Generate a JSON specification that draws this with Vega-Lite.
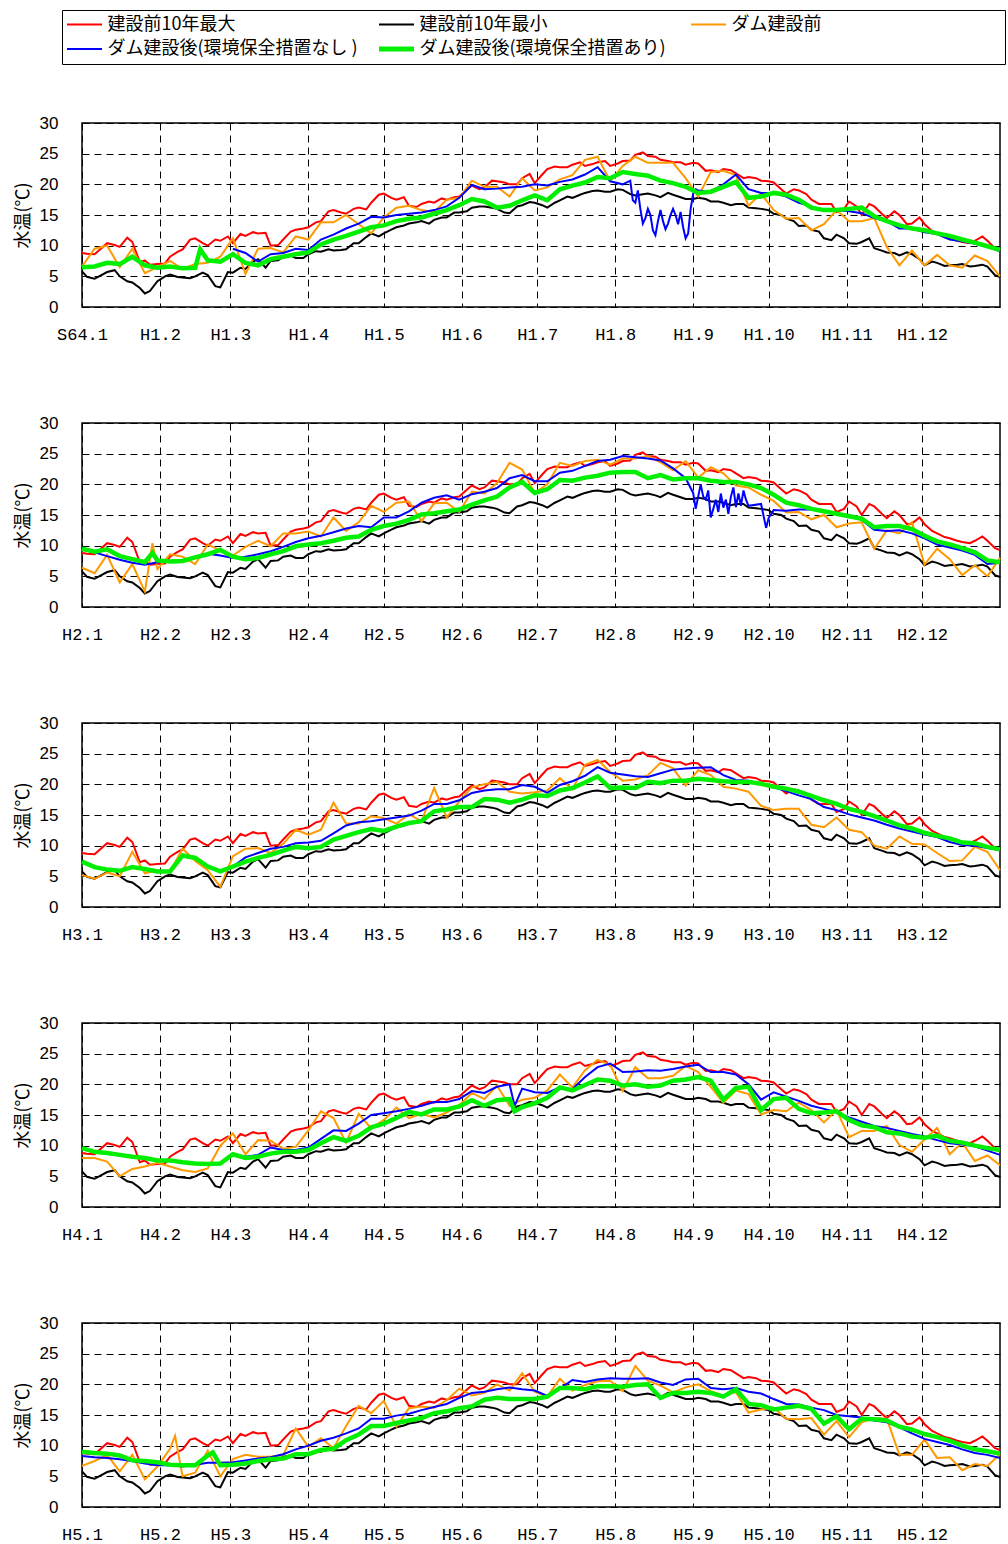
{
"$schema":"https://vega.github.io/schema/vega-lite/v6.json",
"background":"white",
"padding":{"left":13,"top":9,"right":8,"bottom":5},
"datasets":{
"mm":[
{"d":0,"r":8.8,"k":5.8},{"d":5,"r":8.6,"k":4.6},{"d":10,"r":10.4,"k":5.7},{"d":15,"r":9.8,"k":5.0},{"d":20,"r":10.6,"k":4.0},{"d":25,"r":7.6,"k":2.2},{"d":30,"r":7.0,"k":4.2},{"d":35,"r":8.2,"k":5.3},{"d":40,"r":9.4,"k":4.8},{"d":45,"r":11.2,"k":5.0},{"d":50,"r":10.0,"k":5.2},{"d":55,"r":10.8,"k":3.2},{"d":60,"r":10.4,"k":5.6},{"d":65,"r":11.6,"k":6.2},{"d":70,"r":12.0,"k":7.8},{"d":75,"r":10.0,"k":7.5},{"d":80,"r":11.0,"k":8.2},{"d":85,"r":12.6,"k":8.0},{"d":90,"r":13.0,"k":8.6},{"d":95,"r":14.0,"k":9.0},{"d":100,"r":15.8,"k":9.2},{"d":105,"r":15.2,"k":9.4},{"d":110,"r":16.2,"k":10.4},{"d":115,"r":17.0,"k":12.0},{"d":120,"r":18.5,"k":12.0},{"d":125,"r":17.5,"k":13.0},{"d":130,"r":16.5,"k":13.6},{"d":135,"r":16.8,"k":14.0},{"d":140,"r":17.0,"k":14.2},{"d":145,"r":17.5,"k":14.6},{"d":150,"r":18.0,"k":15.4},{"d":155,"r":19.8,"k":16.2},{"d":160,"r":19.5,"k":16.4},{"d":165,"r":20.5,"k":16.0},{"d":170,"r":20.0,"k":15.3},{"d":175,"r":21.0,"k":16.6},{"d":180,"r":20.2,"k":17.0},{"d":185,"r":22.5,"k":16.2},{"d":190,"r":22.8,"k":17.4},{"d":195,"r":23.2,"k":17.8},{"d":200,"r":23.0,"k":18.6},{"d":205,"r":23.6,"k":19.0},{"d":210,"r":23.0,"k":18.8},{"d":215,"r":23.8,"k":19.1},{"d":220,"r":24.8,"k":18.2},{"d":225,"r":24.6,"k":18.5},{"d":230,"r":24.0,"k":17.9},{"d":235,"r":23.6,"k":18.3},{"d":240,"r":23.2,"k":17.6},{"d":245,"r":23.4,"k":17.8},{"d":250,"r":22.3,"k":17.2},{"d":255,"r":22.5,"k":17.0},{"d":260,"r":21.8,"k":16.8},{"d":265,"r":21.2,"k":16.2},{"d":270,"r":20.6,"k":16.0},{"d":275,"r":20.3,"k":15.2},{"d":280,"r":18.5,"k":14.4},{"d":285,"r":19.0,"k":13.2},{"d":290,"r":17.5,"k":12.6},{"d":295,"r":16.8,"k":11.2},{"d":300,"r":15.5,"k":11.8},{"d":305,"r":17.2,"k":10.4},{"d":310,"r":15.0,"k":10.6},{"d":315,"r":16.4,"k":9.6},{"d":320,"r":14.5,"k":8.9},{"d":325,"r":15.0,"k":8.4},{"d":330,"r":13.6,"k":8.6},{"d":335,"r":13.5,"k":6.8},{"d":340,"r":12.0,"k":7.2},{"d":345,"r":11.2,"k":6.8},{"d":350,"r":10.6,"k":7.0},{"d":355,"r":10.8,"k":6.7},{"d":360,"r":10.8,"k":6.6},{"d":365,"r":9.3,"k":4.9},
{"d":2,"r":8.7,"k":4.9},{"d":13,"r":10.1,"k":6.0},{"d":18,"r":11.3,"k":4.2},{"d":23,"r":7.3,"k":3.1},{"d":27,"r":6.9,"k":2.6},{"d":33,"r":7.1,"k":5.0},{"d":38,"r":9.0,"k":4.9},{"d":43,"r":11.0,"k":4.7},{"d":48,"r":10.4,"k":5.6},{"d":53,"r":11.0,"k":3.4},{"d":58,"r":11.5,"k":5.7},{"d":63,"r":11.9,"k":6.4},{"d":68,"r":12.2,"k":7.4},{"d":73,"r":12.1,"k":6.4},{"d":78,"r":10.1,"k":7.6},{"d":83,"r":12.3,"k":8.4},{"d":88,"r":12.8,"k":8.0},{"d":93,"r":13.8,"k":9.1},{"d":98,"r":15.6,"k":9.4},{"d":103,"r":15.4,"k":9.3},{"d":108,"r":16.0,"k":10.4},{"d":113,"r":15.9,"k":11.4},{"d":118,"r":18.3,"k":11.5},{"d":123,"r":17.8,"k":12.6},{"d":128,"r":17.9,"k":13.3},{"d":133,"r":16.3,"k":13.8},{"d":138,"r":17.2,"k":13.6},{"d":143,"r":17.7,"k":14.6},{"d":148,"r":17.9,"k":15.4},{"d":153,"r":19.1,"k":15.6},{"d":158,"r":19.2,"k":16.4},{"d":163,"r":20.6,"k":16.2},{"d":168,"r":20.3,"k":15.4},{"d":173,"r":20.0,"k":16.4},{"d":178,"r":21.7,"k":17.1},{"d":183,"r":21.6,"k":16.6},{"d":188,"r":22.9,"k":17.0},{"d":193,"r":22.8,"k":18.0},{"d":198,"r":23.6,"k":18.3},{"d":203,"r":23.3,"k":18.9},{"d":208,"r":23.8,"k":18.8},{"d":213,"r":23.4,"k":19.2},{"d":218,"r":23.9,"k":18.4},{"d":223,"r":25.2,"k":18.4},{"d":228,"r":24.5,"k":18.2},{"d":233,"r":23.8,"k":18.6},{"d":238,"r":23.6,"k":17.9},{"d":243,"r":23.5,"k":17.6},{"d":248,"r":22.2,"k":17.6},{"d":253,"r":22.0,"k":17.2},{"d":258,"r":22.3,"k":16.6},{"d":263,"r":21.0,"k":16.8},{"d":268,"r":21.0,"k":16.1},{"d":273,"r":20.5,"k":15.8},{"d":278,"r":19.2,"k":15.0},{"d":283,"r":19.2,"k":14.0},{"d":288,"r":18.4,"k":13.3},{"d":293,"r":16.8,"k":12.3},{"d":298,"r":16.8,"k":10.9},{"d":303,"r":16.0,"k":11.2},{"d":308,"r":16.4,"k":10.3},{"d":313,"r":16.8,"k":11.2},{"d":318,"r":15.2,"k":9.2},{"d":323,"r":15.6,"k":8.8},{"d":328,"r":13.5,"k":8.9},{"d":333,"r":14.6,"k":7.8},{"d":338,"r":12.4,"k":7.4},{"d":343,"r":11.4,"k":6.7},{"d":348,"r":10.8,"k":6.9},{"d":353,"r":10.4,"k":6.6},{"d":358,"r":11.5,"k":6.9},{"d":363,"r":9.6,"k":5.2}
],
"p1":[
{"d":0,"o":6.6,"g":6.5},{"d":5,"o":9.5,"g":6.6},{"d":10,"o":10.0,"g":7.2},{"d":15,"o":6.5,"g":7.0},{"d":20,"o":9.5,"g":8.2},{"d":25,"o":5.5,"g":6.8},{"d":30,"o":6.5,"g":6.4},{"d":35,"o":7.5,"g":6.6},{"d":40,"o":6.2,"g":6.3},{"d":45,"o":7.0,"g":6.4},{"d":47,"g":9.4},{"d":50,"o":7.2,"g":7.6},{"d":55,"o":8.2,"g":7.4},
{"d":60,"o":11.2,"b":9.5,"g":8.6},{"d":65,"o":5.4,"b":8.8,"g":7.2},{"d":70,"o":9.5,"b":7.4,"g":6.8},{"d":75,"o":9.6,"b":8.6,"g":7.8},{"d":80,"o":8.9,"b":8.8,"g":8.2},{"d":85,"o":11.5,"b":9.5,"g":8.6},{"d":90,"o":11.0,"b":9.3,"g":8.9},{"d":95,"o":13.8,"b":11.0,"g":10.2},{"d":100,"o":13.8,"b":11.8,"g":11.0},{"d":105,"o":15.0,"b":12.8,"g":11.6},{"d":110,"o":13.5,"b":13.6,"g":12.3},{"d":115,"o":12.0,"b":14.7,"g":13.0},{"d":120,"o":14.6,"b":14.6,"g":13.3},{"d":125,"o":16.2,"b":15.0,"g":14.0},{"d":130,"o":16.5,"b":15.2,"g":14.4},{"d":135,"o":15.8,"b":15.4,"g":14.6},{"d":140,"o":15.5,"b":15.8,"g":15.2},{"d":145,"o":17.5,"b":16.4,"g":15.8},{"d":150,"o":17.8,"b":17.8,"g":16.6},{"d":155,"o":20.6,"b":19.9,"g":17.6},{"d":160,"o":19.6,"b":19.2,"g":17.2},{"d":165,"o":19.6,"b":19.3,"g":16.2},{"d":170,"o":18.0,"b":19.5,"g":16.5},{"d":175,"o":21.0,"b":19.6,"g":17.4},{"d":180,"o":19.0,"b":20.0,"g":18.2},{"d":185,"o":19.5,"b":19.8,"g":17.4},{"d":190,"o":20.8,"b":20.4,"g":19.2},{"d":195,"o":21.5,"b":20.8,"g":19.8},{"d":200,"o":24.0,"b":21.6,"g":20.3},{"d":205,"o":24.5,"b":22.8,"g":21.2},{"d":210,"o":20.5,"b":20.5,"g":21.0},{"d":215,"o":23.0,"b":20.0,"g":22.0},{"d":220,"o":24.5,"b":17.0,"g":21.7},{"d":225,"o":23.5,"b":16.0,"g":21.4},{"d":230,"o":23.5,"b":15.8,"g":20.6},{"d":235,"o":23.5,"b":16.0,"g":20.2},{"d":240,"o":21.0,"b":11.2,"g":19.6},{"d":245,"o":18.0,"b":19.0,"g":18.6},{"d":250,"o":22.0,"b":18.8,"g":18.8},{"d":255,"o":22.2,"b":20.0,"g":19.6},{"d":260,"o":21.5,"b":21.6,"g":20.4},{"d":265,"o":16.5,"b":19.2,"g":17.8},{"d":270,"o":18.5,"b":18.6,"g":18.0},{"d":275,"o":15.8,"b":18.6,"g":18.6},{"d":280,"o":14.4,"b":18.0,"g":18.3},{"d":285,"o":14.5,"b":17.0,"g":17.5},{"d":290,"o":12.5,"b":16.4,"g":16.2},{"d":295,"o":13.5,"b":15.8,"g":15.8},{"d":300,"o":15.8,"b":15.8,"g":15.8},{"d":305,"o":14.0,"b":15.6,"g":16.0},{"d":310,"o":14.0,"b":15.3,"g":16.2},{"d":315,"o":14.5,"b":14.5,"g":14.8},{"d":320,"o":9.8,"b":14.0,"g":14.0},{"d":325,"o":6.8,"b":12.8,"g":13.3},{"d":330,"o":9.2,"b":12.8,"g":12.8},{"d":335,"o":6.8,"b":12.2,"g":12.5},{"d":340,"o":8.5,"b":11.9,"g":12.0},{"d":345,"o":6.8,"b":11.0,"g":11.6},{"d":350,"o":6.4,"b":10.7,"g":11.0},{"d":355,"o":8.4,"b":10.3,"g":10.5},{"d":360,"o":7.5,"b":9.8,"g":9.9},{"d":365,"o":5.0,"b":9.1,"g":9.3},
{"d":218,"b":20.6},{"d":219,"b":17.4},{"d":221,"b":19.0},{"d":222,"b":16.0},{"d":223,"b":13.6},{"d":224,"b":14.5},{"d":226,"b":15.0},{"d":227,"b":12.5},{"d":228,"b":11.7},{"d":229,"b":14.0},{"d":231,"b":14.0},{"d":232,"b":12.7},{"d":233,"b":13.6},{"d":234,"b":15.0},{"d":236,"b":15.0},{"d":237,"b":13.5},{"d":238,"b":15.5},{"d":239,"b":13.0},{"d":241,"b":12.0},{"d":242,"b":16.0},{"d":243,"b":18.5},{"d":244,"b":19.2}
],
"p2":[
{"d":0,"o":6.4,"b":9.4,"g":9.5},{"d":5,"o":5.5,"b":8.9,"g":9.0},{"d":10,"o":8.5,"b":8.3,"g":9.4},{"d":15,"o":4.0,"b":7.7,"g":8.3},{"d":20,"o":7.0,"b":7.2,"g":7.8},{"d":25,"o":2.5,"b":6.9,"g":7.3},{"d":28,"o":10.4,"g":8.8},{"d":30,"o":6.2,"b":7.3,"g":7.6},{"d":35,"o":8.6,"b":7.4,"g":7.4},{"d":40,"o":8.2,"b":7.5,"g":7.5},{"d":45,"o":7.0,"b":8.2,"g":8.1},{"d":50,"o":10.2,"b":8.7,"g":8.6},{"d":55,"o":9.2,"b":8.4,"g":9.3},{"d":60,"o":8.4,"b":8.0,"g":8.2},{"d":65,"o":9.8,"b":8.2,"g":7.8},{"d":70,"o":10.8,"b":8.6,"g":8.0},{"d":75,"o":9.9,"b":9.1,"g":8.6},{"d":80,"o":12.0,"b":9.8,"g":9.1},{"d":85,"o":12.0,"b":10.6,"g":9.9},{"d":90,"o":12.3,"b":11.2,"g":10.2},{"d":95,"o":11.5,"b":11.6,"g":10.4},{"d":100,"o":14.6,"b":12.2,"g":10.8},{"d":105,"o":12.4,"b":12.8,"g":11.3},{"d":110,"o":13.8,"b":13.2,"g":11.5},{"d":115,"o":16.5,"b":13.0,"g":12.6},{"d":120,"o":15.5,"b":14.6,"g":13.2},{"d":125,"o":17.0,"b":14.6,"g":13.6},{"d":130,"o":17.2,"b":15.6,"g":14.2},{"d":135,"o":14.0,"b":17.0,"g":15.1},{"d":140,"o":16.9,"b":17.8,"g":15.3},{"d":145,"o":17.0,"b":18.2,"g":15.6},{"d":150,"o":15.5,"b":17.5,"g":15.9},{"d":155,"o":18.8,"b":18.4,"g":16.7},{"d":160,"o":18.5,"b":18.8,"g":17.4},{"d":165,"o":20.2,"b":19.4,"g":18.0},{"d":170,"o":23.5,"b":21.0,"g":19.5},{"d":175,"o":22.4,"b":21.5,"g":20.4},{"d":180,"o":18.6,"b":20.5,"g":18.6},{"d":185,"o":20.0,"b":20.5,"g":19.2},{"d":190,"o":23.5,"b":21.9,"g":20.7},{"d":195,"o":23.0,"b":22.2,"g":20.6},{"d":200,"o":23.8,"b":23.0,"g":21.1},{"d":205,"o":24.0,"b":23.8,"g":21.4},{"d":210,"o":23.2,"b":24.0,"g":21.9},{"d":215,"o":24.2,"b":24.6,"g":22.0},{"d":220,"o":24.2,"b":24.4,"g":22.0},{"d":225,"o":24.6,"b":24.2,"g":21.0},{"d":230,"o":23.6,"b":23.9,"g":21.5},{"d":235,"o":22.3,"b":22.6,"g":20.8},{"d":240,"o":23.8,"b":21.0,"g":21.0},{"d":245,"o":21.1,"b":18.0,"g":21.0},{"d":250,"o":22.8,"b":14.6,"g":20.6},{"d":255,"o":21.8,"b":16.2,"g":20.4},{"d":260,"o":19.8,"b":16.3,"g":20.4},{"d":265,"o":19.5,"b":16.5,"g":20.0},{"d":270,"o":18.3,"b":16.8,"g":19.4},{"d":275,"o":17.3,"b":15.8,"g":18.3},{"d":280,"o":15.4,"b":15.7,"g":17.0},{"d":285,"o":15.5,"b":15.9,"g":16.6},{"d":290,"o":14.3,"b":15.9,"g":16.0},{"d":295,"o":15.0,"b":15.7,"g":15.6},{"d":300,"o":13.0,"b":15.2,"g":15.2},{"d":305,"o":13.6,"b":15.0,"g":14.8},{"d":310,"o":13.8,"b":14.2,"g":14.4},{"d":315,"o":9.5,"b":12.6,"g":13.0},{"d":320,"o":12.5,"b":12.4,"g":13.2},{"d":325,"o":12.0,"b":12.5,"g":13.2},{"d":330,"o":13.8,"b":12.0,"g":12.7},{"d":335,"o":6.9,"b":11.2,"g":11.6},{"d":340,"o":9.5,"b":10.2,"g":10.7},{"d":345,"o":7.8,"b":9.7,"g":10.2},{"d":350,"o":5.2,"b":9.2,"g":9.6},{"d":355,"o":6.8,"b":8.5,"g":8.9},{"d":360,"o":5.0,"b":7.0,"g":7.6},{"d":365,"o":8.0,"b":7.2,"g":7.3},
{"d":243,"b":18.6},{"d":244,"b":16.0},{"d":246,"b":20.0},{"d":247,"b":18.0},{"d":248,"b":17.5},{"d":249,"b":19.0},{"d":251,"b":16.0},{"d":252,"b":17.5},{"d":253,"b":15.5},{"d":254,"b":18.5},{"d":256,"b":17.5},{"d":257,"b":15.2},{"d":258,"b":18.0},{"d":259,"b":19.5},{"d":261,"b":18.5},{"d":262,"b":16.5},{"d":263,"b":19.0},{"d":264,"b":17.5},{"d":272,"b":12.9},{"d":273,"b":14.5}
],
"p3":[
{"d":0,"o":5.2,"g":7.4},{"d":5,"o":4.6,"g":6.5},{"d":10,"o":5.6,"g":6.1},{"d":15,"o":5.0,"g":5.9},{"d":20,"o":9.0,"g":6.5},{"d":25,"o":5.5,"g":6.2},{"d":30,"o":6.0,"g":5.8},{"d":35,"o":5.8,"g":5.8},{"d":40,"o":9.5,"g":8.4},{"d":45,"o":7.5,"g":8.0},{"d":50,"o":6.0,"g":6.6},{"d":55,"o":3.3,"g":5.8},
{"d":60,"o":8.3,"b":6.6,"g":6.6},{"d":65,"o":9.5,"b":8.1,"g":7.4},{"d":70,"o":9.6,"b":8.8,"g":8.0},{"d":75,"o":8.8,"b":9.5,"g":8.5},{"d":80,"o":10.3,"b":9.8,"g":9.2},{"d":85,"o":12.6,"b":10.4,"g":9.8},{"d":90,"o":11.8,"b":10.5,"g":9.6},{"d":95,"o":12.6,"b":10.8,"g":9.8},{"d":100,"o":17.0,"b":12.0,"g":11.0},{"d":105,"o":13.6,"b":13.3,"g":11.6},{"d":110,"o":13.6,"b":13.8,"g":12.2},{"d":115,"o":14.8,"b":14.0,"g":12.7},{"d":120,"o":14.5,"b":14.3,"g":12.4},{"d":125,"o":13.6,"b":14.6,"g":13.1},{"d":130,"o":15.1,"b":14.9,"g":13.7},{"d":135,"o":14.0,"b":15.7,"g":14.0},{"d":140,"o":19.4,"b":16.8,"g":15.6},{"d":145,"o":14.6,"b":16.8,"g":15.9},{"d":150,"o":17.2,"b":17.4,"g":16.3},{"d":155,"o":19.5,"b":18.6,"g":16.3},{"d":160,"o":20.0,"b":19.0,"g":17.6},{"d":165,"o":20.4,"b":19.2,"g":17.5},{"d":170,"o":18.8,"b":19.2,"g":17.0},{"d":175,"o":18.5,"b":19.9,"g":17.5},{"d":180,"o":18.7,"b":19.6,"g":18.2},{"d":185,"o":19.0,"b":18.6,"g":18.1},{"d":190,"o":21.0,"b":19.9,"g":19.0},{"d":195,"o":19.2,"b":20.5,"g":19.4},{"d":200,"o":23.2,"b":21.4,"g":20.3},{"d":205,"o":24.0,"b":22.8,"g":21.3},{"d":210,"o":22.0,"b":21.9,"g":19.4},{"d":215,"o":20.6,"b":21.6,"g":19.5},{"d":220,"o":20.8,"b":21.3,"g":19.4},{"d":225,"o":21.5,"b":21.2,"g":20.4},{"d":230,"o":23.5,"b":21.8,"g":20.2},{"d":235,"o":22.6,"b":22.4,"g":20.6},{"d":240,"o":19.8,"b":22.6,"g":20.6},{"d":245,"o":22.3,"b":22.7,"g":20.9},{"d":250,"o":21.5,"b":22.8,"g":20.7},{"d":255,"o":19.6,"b":21.5,"g":20.5},{"d":260,"o":19.3,"b":20.7,"g":20.4},{"d":265,"o":18.8,"b":20.6,"g":20.4},{"d":270,"o":16.5,"b":20.0,"g":20.1},{"d":275,"o":15.8,"b":19.5,"g":19.6},{"d":280,"o":16.0,"b":18.9,"g":19.3},{"d":285,"o":16.0,"b":18.2,"g":18.8},{"d":290,"o":13.4,"b":17.6,"g":18.1},{"d":295,"o":13.0,"b":16.3,"g":17.4},{"d":300,"o":14.6,"b":15.8,"g":16.8},{"d":305,"o":12.6,"b":15.1,"g":16.0},{"d":310,"o":12.2,"b":14.6,"g":15.5},{"d":315,"o":10.0,"b":14.1,"g":14.8},{"d":320,"o":9.5,"b":13.4,"g":14.1},{"d":325,"o":11.5,"b":12.8,"g":13.3},{"d":330,"o":10.3,"b":12.3,"g":12.8},{"d":335,"o":10.2,"b":11.8,"g":12.1},{"d":340,"o":8.8,"b":11.4,"g":11.6},{"d":345,"o":7.5,"b":10.6,"g":11.2},{"d":350,"o":7.6,"b":10.1,"g":10.5},{"d":355,"o":9.8,"b":10.0,"g":10.4},{"d":360,"o":9.0,"b":9.6,"g":9.8},{"d":365,"o":6.0,"b":9.3,"g":9.4}
],
"p4":[
{"d":0,"o":8.0,"g":9.6},{"d":5,"o":8.0,"g":9.0},{"d":10,"o":7.4,"g":8.8},{"d":15,"o":5.0,"g":8.5},{"d":20,"o":6.2,"g":8.2},{"d":25,"o":6.6,"g":8.0},{"d":30,"o":7.2,"g":7.6},{"d":35,"o":6.6,"g":7.6},{"d":40,"o":6.0,"g":7.3},{"d":45,"o":5.7,"g":7.1},{"d":50,"o":6.3,"g":7.0},{"d":55,"o":10.0,"g":7.1},
{"d":60,"o":12.0,"b":8.6,"g":8.6},{"d":65,"o":8.6,"b":8.2,"g":8.0},{"d":70,"o":10.9,"b":8.5,"g":8.2},{"d":75,"o":10.8,"b":9.7,"g":8.7},{"d":80,"o":9.5,"b":9.3,"g":9.0},{"d":85,"o":9.8,"b":9.3,"g":9.0},{"d":90,"o":12.5,"b":9.7,"g":9.3},{"d":95,"o":15.6,"b":11.1,"g":10.4},{"d":100,"o":14.5,"b":12.5,"g":11.4},{"d":105,"o":10.5,"b":12.4,"g":10.8},{"d":110,"o":15.2,"b":13.6,"g":11.6},{"d":115,"o":12.8,"b":15.0,"g":13.0},{"d":120,"o":14.2,"b":15.3,"g":13.6},{"d":125,"o":16.2,"b":15.6,"g":14.5},{"d":130,"o":14.5,"b":16.0,"g":15.5},{"d":135,"o":15.2,"b":16.5,"g":15.1},{"d":140,"o":14.6,"b":17.1,"g":15.9},{"d":145,"o":15.4,"b":17.1,"g":15.9},{"d":150,"o":16.6,"b":17.6,"g":16.4},{"d":155,"o":18.6,"b":18.9,"g":17.4},{"d":160,"o":17.6,"b":18.6,"g":16.5},{"d":165,"o":19.8,"b":19.6,"g":17.4},{"d":170,"o":16.5,"b":20.0,"g":17.6},{"d":172,"b":16.5,"g":15.6},{"d":175,"o":17.5,"b":19.3,"g":16.3},{"d":180,"o":17.8,"b":18.7,"g":16.9},{"d":185,"o":19.0,"b":18.6,"g":17.8},{"d":190,"o":21.6,"b":19.5,"g":19.5},{"d":195,"o":19.5,"b":19.2,"g":19.0},{"d":200,"o":22.3,"b":21.2,"g":19.9},{"d":205,"o":24.0,"b":22.8,"g":20.8},{"d":210,"o":23.2,"b":23.4,"g":20.6},{"d":215,"o":18.9,"b":22.0,"g":19.8},{"d":220,"o":22.8,"b":22.1,"g":20.0},{"d":225,"o":21.0,"b":22.3,"g":19.6},{"d":230,"o":21.0,"b":22.2,"g":19.8},{"d":235,"o":21.4,"b":22.5,"g":20.6},{"d":240,"o":23.0,"b":22.9,"g":20.8},{"d":245,"o":22.0,"b":23.2,"g":21.2},{"d":250,"o":19.6,"b":22.0,"g":20.6},{"d":255,"o":17.0,"b":22.0,"g":17.5},{"d":260,"o":19.0,"b":21.6,"g":19.4},{"d":265,"o":18.4,"b":20.0,"g":19.6},{"d":270,"o":15.1,"b":17.5,"g":15.8},{"d":275,"o":15.8,"b":18.7,"g":17.6},{"d":280,"o":15.6,"b":18.0,"g":17.8},{"d":285,"o":17.0,"b":17.3,"g":16.0},{"d":290,"o":15.8,"b":16.5,"g":15.3},{"d":295,"o":13.8,"b":16.0,"g":15.4},{"d":300,"o":15.8,"b":15.5,"g":15.6},{"d":305,"o":11.4,"b":14.6,"g":14.2},{"d":310,"o":12.4,"b":13.9,"g":13.3},{"d":315,"o":12.4,"b":13.2,"g":13.0},{"d":320,"o":13.2,"b":12.9,"g":12.2},{"d":325,"o":10.1,"b":12.4,"g":12.0},{"d":330,"o":9.0,"b":11.9,"g":11.5},{"d":335,"o":11.0,"b":11.5,"g":11.3},{"d":340,"o":12.9,"b":10.9,"g":11.6},{"d":345,"o":8.6,"b":10.4,"g":10.8},{"d":350,"o":10.5,"b":10.2,"g":10.5},{"d":355,"o":7.5,"b":9.9,"g":10.0},{"d":360,"o":8.4,"b":9.2,"g":9.6},{"d":365,"o":6.8,"b":8.5,"g":9.3}
],
"p5":[
{"d":0,"o":6.7,"b":8.3,"g":9.0},{"d":5,"o":7.5,"b":8.1,"g":8.8},{"d":10,"o":8.5,"b":8.0,"g":8.7},{"d":15,"o":5.8,"b":7.8,"g":8.4},{"d":20,"o":8.5,"b":7.5,"g":7.6},{"d":25,"o":4.5,"b":7.1,"g":7.5},{"d":30,"o":6.6,"b":6.8,"g":7.3},{"d":35,"o":9.5,"b":6.8,"g":6.9},{"d":37,"o":11.6},{"d":40,"o":5.0,"b":6.6,"g":6.8},{"d":45,"o":5.6,"b":6.9,"g":6.8},{"d":50,"o":9.2,"b":7.2,"g":8.4},{"d":52,"g":8.9},{"d":55,"o":5.0,"b":7.2,"g":6.8},{"d":60,"o":7.8,"b":7.3,"g":6.9},{"d":65,"o":8.5,"b":7.6,"g":7.1},{"d":70,"o":8.2,"b":7.9,"g":7.5},{"d":75,"o":8.2,"b":8.1,"g":7.8},{"d":80,"o":8.5,"b":8.6,"g":7.9},{"d":85,"o":12.8,"b":9.4,"g":8.6},{"d":90,"o":9.8,"b":10.0,"g":8.6},{"d":95,"o":11.2,"b":10.8,"g":9.3},{"d":100,"o":9.6,"b":11.3,"g":9.5},{"d":105,"o":13.2,"b":12.0,"g":10.9},{"d":110,"o":16.5,"b":12.8,"g":11.8},{"d":115,"o":15.3,"b":14.4,"g":13.2},{"d":120,"o":17.3,"b":14.4,"g":13.2},{"d":125,"o":13.1,"b":14.9,"g":13.7},{"d":130,"o":16.1,"b":15.2,"g":14.1},{"d":135,"o":16.4,"b":15.8,"g":14.5},{"d":140,"o":16.2,"b":16.3,"g":15.3},{"d":145,"o":17.4,"b":16.8,"g":15.6},{"d":150,"o":19.3,"b":17.8,"g":16.1},{"d":155,"o":18.2,"b":18.6,"g":16.4},{"d":160,"o":18.6,"b":18.8,"g":17.5},{"d":165,"o":20.0,"b":19.2,"g":17.8},{"d":170,"o":19.0,"b":19.5,"g":17.6},{"d":175,"o":21.8,"b":19.2,"g":17.6},{"d":180,"o":18.8,"b":19.0,"g":17.6},{"d":185,"o":18.0,"b":18.1,"g":18.0},{"d":190,"o":20.9,"b":19.3,"g":19.4},{"d":195,"o":19.0,"b":20.7,"g":19.4},{"d":200,"o":19.9,"b":20.4,"g":19.2},{"d":205,"o":20.5,"b":20.8,"g":19.7},{"d":210,"o":20.6,"b":21.0,"g":19.7},{"d":215,"o":18.9,"b":20.9,"g":19.6},{"d":220,"o":23.0,"b":20.9,"g":19.9},{"d":225,"o":20.6,"b":21.0,"g":20.0},{"d":230,"o":19.8,"b":20.3,"g":17.8},{"d":235,"o":18.7,"b":19.9,"g":18.6},{"d":240,"o":19.5,"b":20.8,"g":18.6},{"d":245,"o":20.0,"b":20.9,"g":18.8},{"d":250,"o":18.9,"b":19.4,"g":18.6},{"d":255,"o":18.2,"b":19.2,"g":18.0},{"d":260,"o":18.7,"b":19.4,"g":19.2},{"d":265,"o":15.4,"b":18.8,"g":16.8},{"d":270,"o":15.9,"b":18.5,"g":16.6},{"d":275,"o":16.2,"b":17.6,"g":15.9},{"d":280,"o":14.4,"b":16.8,"g":16.2},{"d":285,"o":14.3,"b":16.7,"g":16.5},{"d":290,"o":14.5,"b":16.2,"g":16.0},{"d":295,"o":11.8,"b":15.8,"g":13.6},{"d":300,"o":14.0,"b":15.0,"g":14.8},{"d":305,"o":11.4,"b":14.8,"g":12.7},{"d":310,"o":13.8,"b":14.6,"g":14.4},{"d":315,"o":14.5,"b":14.1,"g":14.3},{"d":320,"o":14.4,"b":13.8,"g":14.1},{"d":325,"o":8.5,"b":13.0,"g":13.1},{"d":330,"o":8.5,"b":12.0,"g":12.6},{"d":335,"o":11.0,"b":11.1,"g":11.9},{"d":340,"o":8.0,"b":10.6,"g":11.4},{"d":345,"o":8.1,"b":10.1,"g":10.8},{"d":350,"o":6.0,"b":9.4,"g":10.0},{"d":355,"o":7.0,"b":8.8,"g":9.4},{"d":360,"o":6.7,"b":8.5,"g":9.1},{"d":365,"o":8.6,"b":8.0,"g":8.7}
]
},
"spacing":116,
"bounds":"flush",
"vconcat":[
{"width":918,"height":184,
 "encoding":{
  "x":{"field":"d","type":"quantitative","title":null,"scale":{"domain":[0,365],"nice":false,"zero":false},"axis":{"values":[0,31,59,90,120,151,181,212,243,273,304,334],"labelExpr":"['S64.1','H1.2','H1.3','H1.4','H1.5','H1.6','H1.7','H1.8','H1.9','H1.10','H1.11','H1.12'][indexof([0,31,59,90,120,151,181,212,243,273,304,334], datum.value)]"}},
  "y":{"field":"v","type":"quantitative","title":"水温(℃)","scale":{"domain":[0,30],"nice":false},"axis":{"values":[0,5,10,15,20,25,30]}},
  "color":{"field":"s","type":"nominal","scale":{"domain":["r","k","o","b","g"],"range":["#ff0000","#000000","#ff9900","#0000ff","#00ee00"]},
   "legend":{"orient":"none","legendX":-20,"legendY":-113,"direction":"horizontal","columns":3,"gridAlign":"all","columnPadding":11,"rowPadding":5,"padding":5,"strokeColor":"#000","symbolType":"stroke","symbolSize":1225,"symbolOffset":8.5,"symbolStrokeWidth":2,"labelFont":"Noto Sans CJK JP","labelFontSize":18,"labelColor":"#000","labelOffset":14,"labelLimit":400,"title":" ","titleOrient":"right","titlePadding":179,"titleFontSize":18,
   "labelExpr":"datum.label==='r'?'建設前10年最大':datum.label==='k'?'建設前10年最小':datum.label==='o'?'ダム建設前':datum.label==='b'?'ダム建設後(環境保全措置なし )':'ダム建設後(環境保全措置あり)'",
   "encode":{"symbols":{"update":{"strokeWidth":{"signal":"datum.value==='g'?5:2"}}}}}}
 },
 "layer":[
  {"data":{"name":"mm"},"transform":[{"fold":["r","k"],"as":["s","v"]}],"mark":{"type":"line","strokeWidth":2},"encoding":{}},
  {"data":{"name":"p1"},"transform":[{"fold":["o"],"as":["s","v"]},{"filter":"isValid(datum.v)"}],"mark":{"type":"line","strokeWidth":2},"encoding":{}},
  {"data":{"name":"p1"},"transform":[{"fold":["b"],"as":["s","v"]},{"filter":"isValid(datum.v)"}],"mark":{"type":"line","strokeWidth":2},"encoding":{}},
  {"data":{"name":"p1"},"transform":[{"fold":["g"],"as":["s","v"]},{"filter":"isValid(datum.v)"}],"mark":{"type":"line","strokeWidth":4.5},"encoding":{}}
 ]},
{"width":918,"height":184,
 "encoding":{
  "x":{"field":"d","type":"quantitative","title":null,"scale":{"domain":[0,365],"nice":false,"zero":false},"axis":{"values":[0,31,59,90,120,151,181,212,243,273,304,334],"labelExpr":"'H2.' + (indexof([0,31,59,90,120,151,181,212,243,273,304,334], datum.value)+1)"}},
  "y":{"field":"v","type":"quantitative","title":"水温(℃)","scale":{"domain":[0,30],"nice":false},"axis":{"values":[0,5,10,15,20,25,30]}},
  "color":{"field":"s","type":"nominal","scale":{"domain":["r","k","o","b","g"],"range":["#ff0000","#000000","#ff9900","#0000ff","#00ee00"]}}
 },
 "layer":[
  {"data":{"name":"mm"},"transform":[{"fold":["r","k"],"as":["s","v"]}],"mark":{"type":"line","strokeWidth":2},"encoding":{}},
  {"data":{"name":"p2"},"transform":[{"fold":["o"],"as":["s","v"]},{"filter":"isValid(datum.v)"}],"mark":{"type":"line","strokeWidth":2},"encoding":{}},
  {"data":{"name":"p2"},"transform":[{"fold":["b"],"as":["s","v"]},{"filter":"isValid(datum.v)"}],"mark":{"type":"line","strokeWidth":2},"encoding":{}},
  {"data":{"name":"p2"},"transform":[{"fold":["g"],"as":["s","v"]},{"filter":"isValid(datum.v)"}],"mark":{"type":"line","strokeWidth":4.5},"encoding":{}}
 ]},
{"width":918,"height":184,
 "encoding":{
  "x":{"field":"d","type":"quantitative","title":null,"scale":{"domain":[0,365],"nice":false,"zero":false},"axis":{"values":[0,31,59,90,120,151,181,212,243,273,304,334],"labelExpr":"'H3.' + (indexof([0,31,59,90,120,151,181,212,243,273,304,334], datum.value)+1)"}},
  "y":{"field":"v","type":"quantitative","title":"水温(℃)","scale":{"domain":[0,30],"nice":false},"axis":{"values":[0,5,10,15,20,25,30]}},
  "color":{"field":"s","type":"nominal","scale":{"domain":["r","k","o","b","g"],"range":["#ff0000","#000000","#ff9900","#0000ff","#00ee00"]}}
 },
 "layer":[
  {"data":{"name":"mm"},"transform":[{"fold":["r","k"],"as":["s","v"]}],"mark":{"type":"line","strokeWidth":2},"encoding":{}},
  {"data":{"name":"p3"},"transform":[{"fold":["o"],"as":["s","v"]},{"filter":"isValid(datum.v)"}],"mark":{"type":"line","strokeWidth":2},"encoding":{}},
  {"data":{"name":"p3"},"transform":[{"fold":["b"],"as":["s","v"]},{"filter":"isValid(datum.v)"}],"mark":{"type":"line","strokeWidth":2},"encoding":{}},
  {"data":{"name":"p3"},"transform":[{"fold":["g"],"as":["s","v"]},{"filter":"isValid(datum.v)"}],"mark":{"type":"line","strokeWidth":4.5},"encoding":{}}
 ]},
{"width":918,"height":184,
 "encoding":{
  "x":{"field":"d","type":"quantitative","title":null,"scale":{"domain":[0,365],"nice":false,"zero":false},"axis":{"values":[0,31,59,90,120,151,181,212,243,273,304,334],"labelExpr":"'H4.' + (indexof([0,31,59,90,120,151,181,212,243,273,304,334], datum.value)+1)"}},
  "y":{"field":"v","type":"quantitative","title":"水温(℃)","scale":{"domain":[0,30],"nice":false},"axis":{"values":[0,5,10,15,20,25,30]}},
  "color":{"field":"s","type":"nominal","scale":{"domain":["r","k","o","b","g"],"range":["#ff0000","#000000","#ff9900","#0000ff","#00ee00"]}}
 },
 "layer":[
  {"data":{"name":"mm"},"transform":[{"fold":["r","k"],"as":["s","v"]}],"mark":{"type":"line","strokeWidth":2},"encoding":{}},
  {"data":{"name":"p4"},"transform":[{"fold":["o"],"as":["s","v"]},{"filter":"isValid(datum.v)"}],"mark":{"type":"line","strokeWidth":2},"encoding":{}},
  {"data":{"name":"p4"},"transform":[{"fold":["b"],"as":["s","v"]},{"filter":"isValid(datum.v)"}],"mark":{"type":"line","strokeWidth":2},"encoding":{}},
  {"data":{"name":"p4"},"transform":[{"fold":["g"],"as":["s","v"]},{"filter":"isValid(datum.v)"}],"mark":{"type":"line","strokeWidth":4.5},"encoding":{}}
 ]},
{"width":918,"height":184,
 "encoding":{
  "x":{"field":"d","type":"quantitative","title":null,"scale":{"domain":[0,365],"nice":false,"zero":false},"axis":{"values":[0,31,59,90,120,151,181,212,243,273,304,334],"labelExpr":"'H5.' + (indexof([0,31,59,90,120,151,181,212,243,273,304,334], datum.value)+1)"}},
  "y":{"field":"v","type":"quantitative","title":"水温(℃)","scale":{"domain":[0,30],"nice":false},"axis":{"values":[0,5,10,15,20,25,30]}},
  "color":{"field":"s","type":"nominal","scale":{"domain":["r","k","o","b","g"],"range":["#ff0000","#000000","#ff9900","#0000ff","#00ee00"]}}
 },
 "layer":[
  {"data":{"name":"mm"},"transform":[{"fold":["r","k"],"as":["s","v"]}],"mark":{"type":"line","strokeWidth":2},"encoding":{}},
  {"data":{"name":"p5"},"transform":[{"fold":["o"],"as":["s","v"]},{"filter":"isValid(datum.v)"}],"mark":{"type":"line","strokeWidth":2},"encoding":{}},
  {"data":{"name":"p5"},"transform":[{"fold":["b"],"as":["s","v"]},{"filter":"isValid(datum.v)"}],"mark":{"type":"line","strokeWidth":2},"encoding":{}},
  {"data":{"name":"p5"},"transform":[{"fold":["g"],"as":["s","v"]},{"filter":"isValid(datum.v)"}],"mark":{"type":"line","strokeWidth":4.5},"encoding":{}}
 ]}
],
"config":{
 "view":{"stroke":"#000","strokeWidth":1.5},
 "axis":{"grid":true,"gridColor":"#000","gridOpacity":1,"gridWidth":1,"gridDash":[7,5],"ticks":false,"domain":false,"labelColor":"#000","titleColor":"#000"},
 "axisX":{"labelFont":"Liberation Mono","labelFontSize":17,"labelPadding":19,"labelFlush":false,"labelOverlap":false},
 "axisY":{"labelFont":"Liberation Sans","labelFontSize":17,"labelPadding":24,"titleFont":"Noto Sans CJK JP","titleFontSize":18,"titleFontWeight":"normal","titlePadding":7}
}
}
